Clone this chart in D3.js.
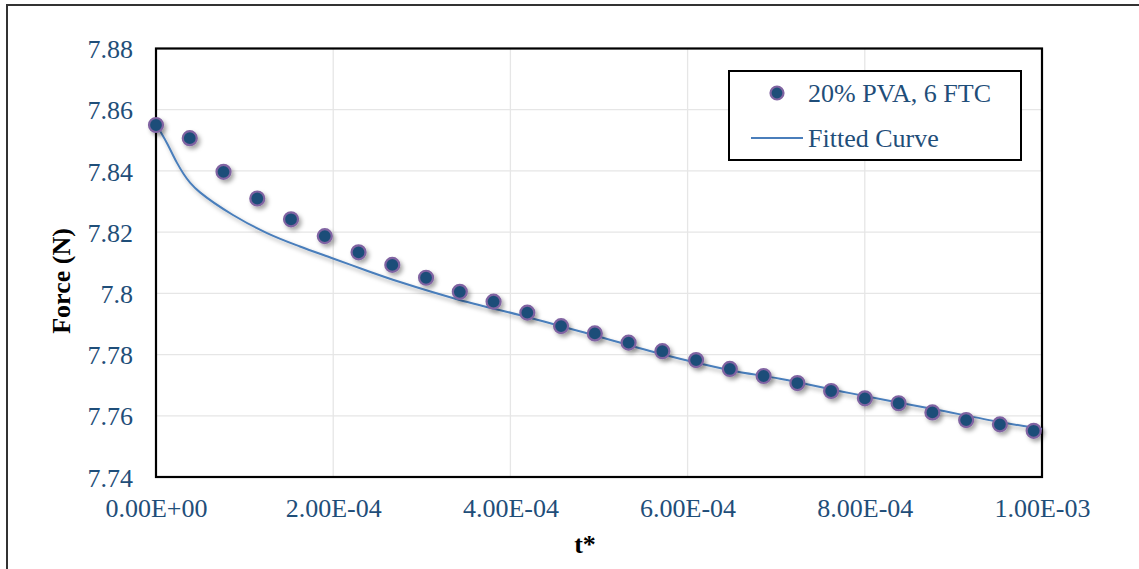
<!DOCTYPE html>
<html>
<head>
<meta charset="utf-8">
<script src="https://cdn.jsdelivr.net/npm/d3@7"></script>
<style>
  html, body { margin: 0; padding: 0; background: #fff; }
  svg { display: block; }
  text { font-family: "Liberation Serif", "Times New Roman", serif; }
</style>
</head>
<body>
<svg id="chart" width="1139" height="569"></svg>
<script>
// ---- data ----
const seriesName = "20% PVA, 6 FTC";
const fitName = "Fitted Curve";
const tData = [0, 3.81e-5, 7.62e-5, 1.143e-4, 1.524e-4, 1.905e-4, 2.286e-4, 2.667e-4, 3.048e-4,
  3.429e-4, 3.81e-4, 4.191e-4, 4.572e-4, 4.953e-4, 5.334e-4, 5.715e-4, 6.096e-4, 6.477e-4,
  6.858e-4, 7.239e-4, 7.62e-4, 8.001e-4, 8.382e-4, 8.763e-4, 9.144e-4, 9.525e-4, 9.906e-4];
const forceData = [7.8550, 7.8507, 7.8397, 7.8310, 7.8242, 7.8187, 7.8134, 7.8093, 7.8051,
  7.8005, 7.7973, 7.7937, 7.7893, 7.7869, 7.7839, 7.7811, 7.7782, 7.7753,
  7.7730, 7.7707, 7.7681, 7.7657, 7.7641, 7.7611, 7.7586, 7.7572, 7.7551];
const tFit = [0, 1.21e-5, 2.34e-5, 3.1e-5, 3.84e-5, 4.97e-5, 8.69e-5, 1.253e-4, 1.625e-4,
  1.998e-4, 2.381e-4, 2.754e-4, 3.397e-4, 4.187e-4, 4.932e-4, 5.722e-4, 6.479e-4,
  7.043e-4, 7.833e-4, 8.77e-4, 9.537e-4, 1.0e-3];
const forceFit = [7.8553, 7.8492, 7.8428, 7.8391, 7.8362, 7.8330, 7.8256, 7.8197, 7.8153,
  7.8114, 7.8074, 7.8037, 7.7981, 7.7923, 7.7864, 7.7800, 7.7749,
  7.7721, 7.7674, 7.7622, 7.7579, 7.7557];
const xTicks = [0, 2e-4, 4e-4, 6e-4, 8e-4, 1e-3];
const xTickLabels = ["0.00E+00", "2.00E-04", "4.00E-04", "6.00E-04", "8.00E-04", "1.00E-03"];
const yTicks = [7.74, 7.76, 7.78, 7.80, 7.82, 7.84, 7.86, 7.88];
const yTickLabels = ["7.74", "7.76", "7.78", "7.8", "7.82", "7.84", "7.86", "7.88"];

// ---- layout ----
const svg = d3.select("#chart");
const plot = { left: 156, right: 1042, top: 48.5, bottom: 477 };
const textColor = "#1F4E79";
const markerFill = "#1F4E79";
const markerStroke = "#8064A2";
const lineColor = "#4A7EBB";

const x = d3.scaleLinear().domain([0, 1e-3]).range([plot.left, plot.right]);
const y = d3.scaleLinear().domain([7.74, 7.88]).range([plot.bottom, plot.top]);

// shadow filter
const defs = svg.append("defs");
const f = defs.append("filter").attr("id", "shadow")
  .attr("x", "-50%").attr("y", "-50%").attr("width", "200%").attr("height", "200%");
f.append("feDropShadow").attr("dx", 2.5).attr("dy", 3).attr("stdDeviation", 2)
  .attr("flood-color", "#000").attr("flood-opacity", 0.35);

// outer frame
svg.append("rect").attr("x", 7).attr("y", 5).attr("width", 1200).attr("height", 700)
  .attr("fill", "none").attr("stroke", "#333").attr("stroke-width", 2);

// gridlines
const grid = svg.append("g");
grid.selectAll("line.gy").data(yTicks).join("line")
  .attr("x1", plot.left).attr("x2", plot.right)
  .attr("y1", d => y(d)).attr("y2", d => y(d))
  .attr("stroke", "#e6e6e6").attr("stroke-width", 1.3);
grid.selectAll("line.gx").data(xTicks).join("line")
  .attr("y1", plot.top).attr("y2", plot.bottom)
  .attr("x1", d => x(d)).attr("x2", d => x(d))
  .attr("stroke", "#e6e6e6").attr("stroke-width", 1.3);

// axes (labels only, via d3 axis)
const yAxis = d3.axisLeft(y).tickValues(yTicks)
  .tickFormat((d, i) => yTickLabels[i]).tickSize(0).tickPadding(23);
const gy = svg.append("g").attr("transform", `translate(${plot.left},0)`).call(yAxis);
gy.select(".domain").remove();
gy.selectAll("text").attr("fill", textColor).style("font-size", "26px")
  .style("font-family", "'Liberation Serif', 'Times New Roman', serif").attr("dy", "0.35em");

const xAxis = d3.axisBottom(x).tickValues(xTicks)
  .tickFormat((d, i) => xTickLabels[i]).tickSize(0).tickPadding(0);
const gx = svg.append("g").attr("transform", `translate(0,${plot.bottom})`).call(xAxis);
gx.select(".domain").remove();
gx.selectAll("text").attr("fill", textColor).style("font-size", "26px")
  .style("font-family", "'Liberation Serif', 'Times New Roman', serif")
  .attr("y", 40).attr("dy", 0);

// plot border
svg.append("rect").attr("x", plot.left).attr("y", plot.top)
  .attr("width", plot.right - plot.left).attr("height", plot.bottom - plot.top)
  .attr("fill", "none").attr("stroke", "#000").attr("stroke-width", 2.2);

// fitted curve
const fitPts = tFit.map((t, i) => [t, forceFit[i]]);
const line = d3.line().x(d => x(d[0])).y(d => y(d[1])).curve(d3.curveCatmullRom.alpha(0.5));
svg.append("path").datum(fitPts).attr("d", line)
  .attr("fill", "none").attr("stroke", lineColor).attr("stroke-width", 2)
  .attr("filter", "url(#shadow)");

// markers
const pts = tData.map((t, i) => [t, forceData[i]]);
svg.append("g").attr("filter", "url(#shadow)")
  .selectAll("circle").data(pts).join("circle")
  .attr("cx", d => x(d[0])).attr("cy", d => y(d[1])).attr("r", 7)
  .attr("fill", markerFill).attr("stroke", markerStroke).attr("stroke-width", 2.2);

// legend
const lg = svg.append("g");
lg.append("rect").attr("x", 729).attr("y", 71).attr("width", 292).attr("height", 89)
  .attr("fill", "#fff").attr("stroke", "#000").attr("stroke-width", 2);
lg.append("circle").attr("cx", 777).attr("cy", 93).attr("r", 6.5)
  .attr("fill", markerFill).attr("stroke", markerStroke).attr("stroke-width", 2.2);
lg.append("text").attr("x", 808).attr("y", 102).text(seriesName)
  .attr("fill", textColor).style("font-size", "26px");
lg.append("line").attr("x1", 751).attr("x2", 803).attr("y1", 138).attr("y2", 138)
  .attr("stroke", lineColor).attr("stroke-width", 2);
lg.append("text").attr("x", 808).attr("y", 147).text(fitName)
  .attr("fill", textColor).style("font-size", "26px");

// axis titles
svg.append("text").attr("x", 585).attr("y", 553).attr("text-anchor", "middle")
  .style("font-size", "26px").style("font-weight", "bold").attr("fill", "#000").text("t*");
svg.append("text").attr("transform", "translate(70,281) rotate(-90)")
  .attr("text-anchor", "middle").style("font-size", "26px").style("font-weight", "bold")
  .attr("fill", "#000").text("Force (N)");
</script>
</body>
</html>
